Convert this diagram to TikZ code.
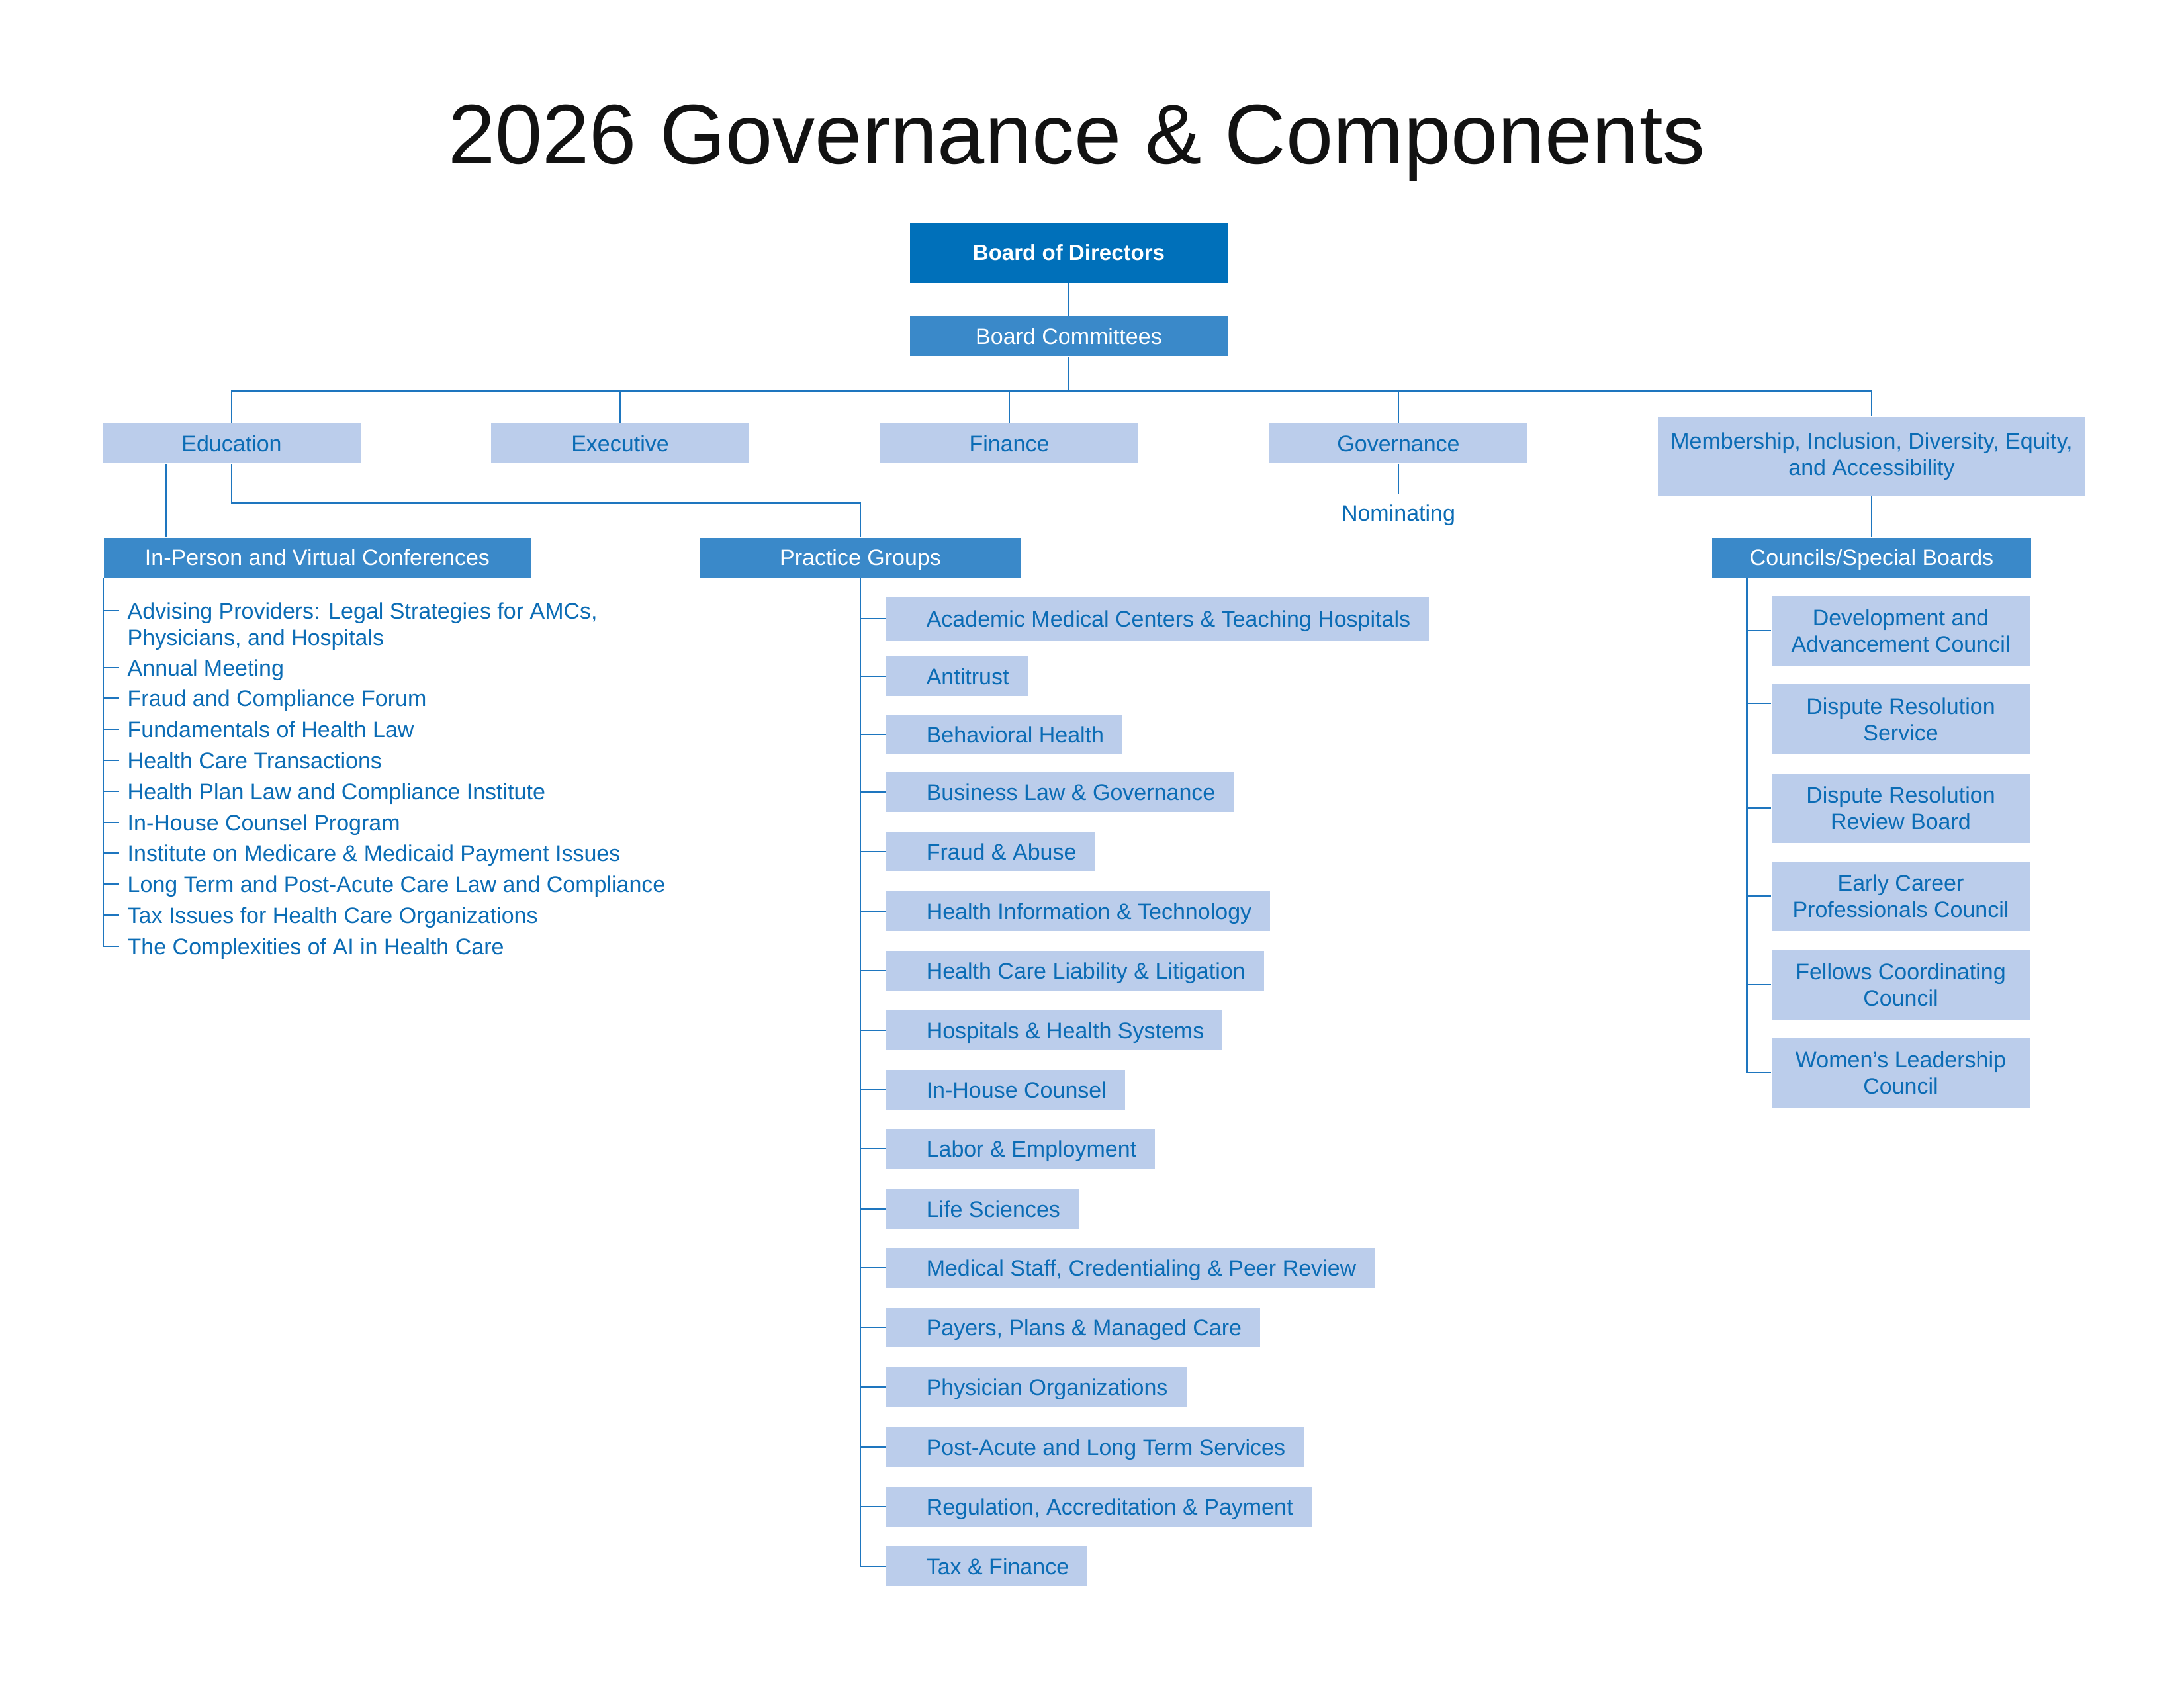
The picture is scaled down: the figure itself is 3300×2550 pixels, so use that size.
\documentclass[tikz,border=0pt]{standalone}
\usepackage{fontspec}
\setmainfont{Liberation Sans}
\usepackage{tikz}
\usetikzlibrary{positioning}
\definecolor{bodblue}{HTML}{0070BA}
\definecolor{hdrblue}{HTML}{3A89C9}
\definecolor{liteblue}{HTML}{BBCDEB}
\definecolor{txtblue}{HTML}{0B6CB5}
\definecolor{lineblue}{HTML}{1E76BF}
\newcommand{\orgfont}{\fontsize{9.67pt}{11.4pt}\selectfont}
\tikzstyle{link} = [lineblue, line width=0.75pt]
\tikzstyle{topbox} = [fill=bodblue, text=white, font=\fontsize{9.4pt}{11pt}\selectfont\bfseries, minimum width=4.8cm, minimum height=0.9cm]
\tikzstyle{hdrbox} = [fill=hdrblue, text=white, font=\orgfont, minimum height=0.6cm, text height=0.26cm, text depth=0.02cm]
\tikzstyle{cmtbox} = [fill=liteblue, text=txtblue, font=\orgfont, minimum width=3.9cm, minimum height=0.6cm, text height=0.26cm, text depth=0.02cm]
\tikzstyle{grpbox} = [fill=liteblue, text=txtblue, font=\orgfont, anchor=west, inner xsep=0.28cm, inner ysep=0pt, minimum height=0.6cm, text height=0.26cm, text depth=0.02cm]
\tikzstyle{cnlbox} = [fill=liteblue, text=txtblue, font=\orgfont, align=center, minimum width=3.9cm, minimum height=1.05cm]
\tikzstyle{item} = [text=txtblue, font=\orgfont, anchor=west, inner xsep=0.12cm, inner ysep=0pt, text height=0.26cm, text depth=0.02cm]

\begin{document}
\begin{tikzpicture}[x=0.01cm, y=-0.01cm]
        \fill[white] (0,0) rectangle (3300,2550);
        \useasboundingbox (0,0) rectangle (3300,2550);
        \node[anchor=base, text=black!93, font=\fontsize{36.4pt}{40pt}\selectfont] (title) at (1627,247) {2026 Governance \& Components};
        % board and committees
        \node[topbox] (bod) at (1615,382) {Board of Directors};
        \node[hdrbox, minimum width=4.8cm] (bc) at (1615,508) {Board Committees};
        \node[cmtbox] (edu) at (350,670) {Education};
        \node[cmtbox] (exe) at (937,670) {Executive};
        \node[cmtbox] (fin) at (1525,670) {Finance};
        \node[cmtbox] (gov) at (2113,670) {Governance};
        \node[cmtbox, align=center, minimum width=6.45cm, minimum height=1.19cm, text height=, text depth=] (mem) at (2828,689.5) {\raisebox{-0.04cm}{Membership, Inclusion, Diversity, Equity,}\\\raisebox{-0.04cm}{and Accessibility}};
        \node[item, anchor=north, inner ysep=0.14cm, below=0.46cm of gov] (nom) {Nominating};
        \coordinate (bus) at (1615,591);
        \draw[link] (bod) -- (bc) (bc) -- (bus)
        (edu.north) -- (edu.north |- bus) -- (mem.north |- bus) -- (mem.north)
        (exe.north) -- (exe.north |- bus)
        (fin.north) -- (fin.north |- bus)
        (gov.north) -- (gov.north |- bus)
        (gov) -- (nom);
        % second level
        \node[hdrbox, minimum width=6.45cm] (ipv) at (479.5,842.5) {In-Person and Virtual Conferences};
        \node[hdrbox, minimum width=4.84cm] (pg) at (1300,842.5) {Practice Groups};
        \node[hdrbox, minimum width=4.81cm] (cb) at (2828,842.5) {Councils/Special Boards};
        \coordinate (e1) at ([xshift=0.97cm]edu.south west);
        \coordinate (cbl) at ([xshift=0.53cm]cb.south west);
        \draw[link] (e1) -- (e1 |- ipv.north)
        (edu.south) -- ++(0,60) -| (pg.north)
        (mem.south) -- (cb.north);
        % conferences
        \node[item] (l1) at (180,923) {Advising Providers: Legal Strategies for AMCs,};
        \node[item] (l1b) at (180,963) {Physicians, and Hospitals};
        \node[item] (l2) at (180,1009) {Annual Meeting};
        \node[item] (l3) at (180,1055) {Fraud and Compliance Forum};
        \node[item] (l4) at (180,1102) {Fundamentals of Health Law};
        \node[item] (l5) at (180,1149) {Health Care Transactions};
        \node[item] (l6) at (180,1196) {Health Plan Law and Compliance Institute};
        \node[item] (l7) at (180,1243) {In-House Counsel Program};
        \node[item] (l8) at (180,1289) {Institute on Medicare \& Medicaid Payment Issues};
        \node[item] (l9) at (180,1336) {Long Term and Post-Acute Care Law and Compliance};
        \node[item] (l10) at (180,1383) {Tax Issues for Health Care Organizations};
        \node[item] (l11) at (180,1430) {The Complexities of AI in Health Care};
        \draw[link] (ipv.south west) |- (l11.west)
        (ipv.south west |- l1.west) -- (l1.west)
        (ipv.south west |- l2.west) -- (l2.west)
        (ipv.south west |- l3.west) -- (l3.west)
        (ipv.south west |- l4.west) -- (l4.west)
        (ipv.south west |- l5.west) -- (l5.west)
        (ipv.south west |- l6.west) -- (l6.west)
        (ipv.south west |- l7.west) -- (l7.west)
        (ipv.south west |- l8.west) -- (l8.west)
        (ipv.south west |- l9.west) -- (l9.west)
        (ipv.south west |- l10.west) -- (l10.west);
        % practice groups
        \node[grpbox, minimum height=0.66cm] (p1) at (1338,935) {\hspace*{0.33cm}Academic Medical Centers \& Teaching Hospitals};
        \node[grpbox] (p2) at (1338,1022) {\hspace*{0.33cm}Antitrust};
        \node[grpbox] (p3) at (1338,1110) {\hspace*{0.33cm}Behavioral Health};
        \node[grpbox] (p4) at (1338,1197) {\hspace*{0.33cm}Business Law \& Governance};
        \node[grpbox] (p5) at (1338,1287) {\hspace*{0.33cm}Fraud \& Abuse};
        \node[grpbox] (p6) at (1338,1377) {\hspace*{0.33cm}Health Information \& Technology};
        \node[grpbox] (p7) at (1338,1467) {\hspace*{0.33cm}Health Care Liability \& Litigation};
        \node[grpbox] (p8) at (1338,1557) {\hspace*{0.33cm}Hospitals \& Health Systems};
        \node[grpbox] (p9) at (1338,1647) {\hspace*{0.33cm}In-House Counsel};
        \node[grpbox] (p10) at (1338,1736) {\hspace*{0.33cm}Labor \& Employment};
        \node[grpbox] (p11) at (1338,1827) {\hspace*{0.33cm}Life Sciences};
        \node[grpbox] (p12) at (1338,1916) {\hspace*{0.33cm}Medical Staff, Credentialing \& Peer Review};
        \node[grpbox] (p13) at (1338,2006) {\hspace*{0.33cm}Payers, Plans \& Managed Care};
        \node[grpbox] (p14) at (1338,2096) {\hspace*{0.33cm}Physician Organizations};
        \node[grpbox] (p15) at (1338,2187) {\hspace*{0.33cm}Post-Acute and Long Term Services};
        \node[grpbox] (p16) at (1338,2277) {\hspace*{0.33cm}Regulation, Accreditation \& Payment};
        \node[grpbox] (p17) at (1338,2367) {\hspace*{0.33cm}Tax \& Finance};
        \draw[link] (pg.south) |- (p17.west)
        (pg.south |- p1.west) -- (p1.west)
        (pg.south |- p2.west) -- (p2.west)
        (pg.south |- p3.west) -- (p3.west)
        (pg.south |- p4.west) -- (p4.west)
        (pg.south |- p5.west) -- (p5.west)
        (pg.south |- p6.west) -- (p6.west)
        (pg.south |- p7.west) -- (p7.west)
        (pg.south |- p8.west) -- (p8.west)
        (pg.south |- p9.west) -- (p9.west)
        (pg.south |- p10.west) -- (p10.west)
        (pg.south |- p11.west) -- (p11.west)
        (pg.south |- p12.west) -- (p12.west)
        (pg.south |- p13.west) -- (p13.west)
        (pg.south |- p14.west) -- (p14.west)
        (pg.south |- p15.west) -- (p15.west)
        (pg.south |- p16.west) -- (p16.west);
        % councils
        \node[cnlbox] (c1) at (2872,953) {Development and\\Advancement Council};
        \node[cnlbox] (c2) at (2872,1087) {Dispute Resolution\\Service};
        \node[cnlbox] (c3) at (2872,1221) {Dispute Resolution\\Review Board};
        \node[cnlbox] (c4) at (2872,1354) {Early Career\\Professionals Council};
        \node[cnlbox] (c5) at (2872,1488) {Fellows Coordinating\\Council};
        \node[cnlbox] (c6) at (2872,1621) {Women's Leadership\\Council};
        \coordinate (c2t) at ([yshift=0.24cm]c2.west);
        \draw[link] (cbl) |- (c6.west)
        (cbl |- c1.west) -- (c1.west)
        (cbl |- c2t) -- (c2t)
        (cbl |- c3.west) -- (c3.west)
        (cbl |- c4.west) -- (c4.west)
        (cbl |- c5.west) -- (c5.west);
      \end{tikzpicture}
\end{document}
